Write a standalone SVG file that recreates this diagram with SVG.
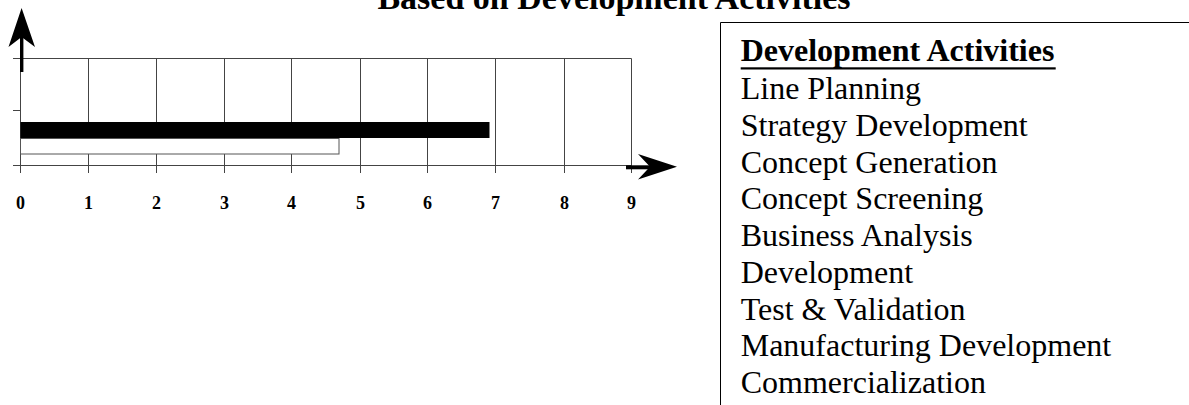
<svg xmlns="http://www.w3.org/2000/svg" width="1189" height="405" viewBox="0 0 1189 405">
<style>
.grid{stroke:#444;stroke-width:1;fill:none}
.tick{font-family:"Liberation Serif",serif;font-weight:bold;font-size:18px;text-anchor:middle;fill:#000}
.item{font-family:"Liberation Serif",serif;font-size:32px;fill:#000}
.title{font-family:"Liberation Serif",serif;font-weight:bold;font-size:34px;text-anchor:middle;fill:#000}
</style>
<rect width="1189" height="405" fill="#fff"/>
<text class="title" x="614" y="9">Based on Development Activities</text>
<g id="chart">
<g id="grid">
<path class="grid" d="M13 58.5H631.5M13 110.5H20.5M13 165.5H631.5"/>
<path class="grid" d="M20.5 58.5V173M88.5 58.5V173M156.5 58.5V173M224.5 58.5V173M291.5 58.5V173M360.5 58.5V173M427.5 58.5V173M495.5 58.5V173M564.5 58.5V173M631.5 58.5V173"/>
</g>
<g id="bars">
<rect x="20.5" y="122" width="469" height="16" fill="#000"/>
<rect x="20.5" y="138.5" width="318.5" height="15.5" fill="#fff" stroke="#555" stroke-width="1"/>
</g>
<g id="axes">
<rect x="20" y="36" width="3.4" height="36" fill="#000"/>
<polygon points="21.6,8 35,47 21.6,37 8.5,47" fill="#000"/>
<rect x="626" y="165.3" width="26" height="4" fill="#000"/>
<polygon points="677,166.8 638,154 650,166.8 638,179.5" fill="#000"/>
</g>
<g id="ticks">
<text class="tick" x="20.5" y="209">0</text>
<text class="tick" x="88.5" y="209">1</text>
<text class="tick" x="156.5" y="209">2</text>
<text class="tick" x="224.5" y="209">3</text>
<text class="tick" x="291.5" y="209">4</text>
<text class="tick" x="360.5" y="209">5</text>
<text class="tick" x="427.5" y="209">6</text>
<text class="tick" x="495.5" y="209">7</text>
<text class="tick" x="564.5" y="209">8</text>
<text class="tick" x="631.5" y="209">9</text>
</g>
</g>
<g id="legend">
<path d="M720.5 405V22.5H1189" stroke="#000" stroke-width="1" fill="none"/>
<text class="item" x="740.7" y="61" font-weight="bold">Development Activities</text>
<rect x="740.7" y="67.3" width="315" height="2.2" fill="#000"/>
<text class="item" x="740.7" y="99.3">Line Planning</text>
<text class="item" x="740.7" y="136">Strategy Development</text>
<text class="item" x="740.7" y="172.7">Concept Generation</text>
<text class="item" x="740.7" y="209.4">Concept Screening</text>
<text class="item" x="740.7" y="246.1">Business Analysis</text>
<text class="item" x="740.7" y="282.8">Development</text>
<text class="item" x="740.7" y="319.5">Test &amp; Validation</text>
<text class="item" x="740.7" y="356.2">Manufacturing Development</text>
<text class="item" x="740.7" y="392.9">Commercialization</text>
</g>
</svg>
